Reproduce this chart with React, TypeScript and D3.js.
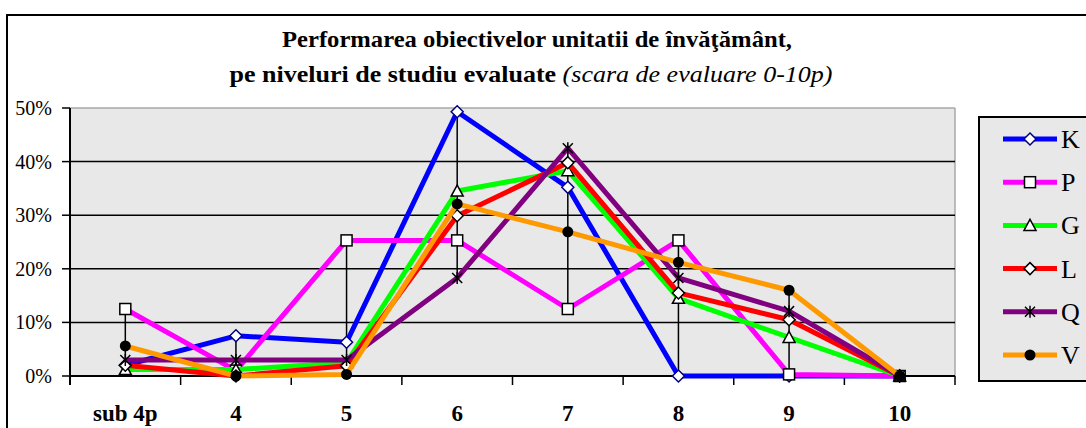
import React from "react";
import * as d3 from "d3";

// categories on the x axis (score levels)
const categories = ["sub 4p", "4", "5", "6", "7", "8", "9", "10"];
const seriesNames = ["K", "P", "G", "L", "Q", "V"];

// percentages per study level
const K = [2.0, 7.5, 6.3, 49.3, 35.2, 0, 0, 0];
const P = [12.5, 1.0, 25.3, 25.3, 12.5, 25.3, 0.3, 0];
const G = [1.2, 1.2, 2.5, 34.5, 38.3, 14.5, 7.2, 0];
const L = [2.0, 0, 1.9, 29.9, 39.8, 15.5, 10.5, 0];
const Q = [3.0, 3.0, 3.0, 18.3, 42.5, 18.3, 12.1, 0];
const V = [5.6, 0, 0.3, 32.1, 26.9, 21.2, 16.0, 0];

const yTicks = [0, 10, 20, 30, 40, 50];

const W = 1086;
const H = 428;
const plot = { left: 70, right: 955, top: 108, bottom: 376 };
const FONT = "Liberation Serif, Times New Roman, DejaVu Serif, serif";

const colors: Record<string, string> = {
  K: "#0000ff",
  P: "#ff00ff",
  G: "#00ff00",
  L: "#ff0000",
  Q: "#800080",
  V: "#ff9900",
};

const shapes: Record<string, string> = {
  K: "diamond",
  P: "square",
  G: "triangle",
  L: "diamond",
  Q: "star",
  V: "circle",
};

const Marker = ({ name, x, y }: { name: string; x: number; y: number }) => {
  const shape = shapes[name];
  const stroke = name === "K" ? "#000080" : "#000";
  if (shape === "diamond") {
    const s = 6;
    return (
      <path
        d={`M${x},${y - s}L${x + s},${y}L${x},${y + s}L${x - s},${y}Z`}
        fill="#fff"
        stroke={stroke}
        strokeWidth={1.5}
      />
    );
  }
  if (shape === "square") {
    return <rect x={x - 5.5} y={y - 5.5} width={11} height={11} fill="#fff" stroke="#000" strokeWidth={1.5} />;
  }
  if (shape === "triangle") {
    return (
      <path d={`M${x},${y - 6}L${x + 6},${y + 5}L${x - 6},${y + 5}Z`} fill="#fff" stroke="#000" strokeWidth={1.5} />
    );
  }
  if (shape === "star") {
    const s = 5;
    return (
      <path
        d={`M${x - s},${y - s}L${x + s},${y + s}M${x + s},${y - s}L${x - s},${y + s}M${x},${y - s - 1}L${x},${y + s + 1}`}
        stroke="#000"
        strokeWidth={1.5}
      />
    );
  }
  return <circle cx={x} cy={y} r={5.5} fill="#000" />;
};

export default function App() {
  const data: Record<string, number[]> = { K, P, G, L, Q, V };

  const x = d3.scaleBand<string>().domain(categories).range([plot.left, plot.right]);
  const y = d3.scaleLinear().domain([0, 50]).range([plot.bottom, plot.top]);
  const cx = (c: string) => (x(c) as number) + x.bandwidth() / 2;

  const line = d3
    .line<number>()
    .x((_, i) => cx(categories[i]))
    .y((d) => y(d));

  const boundaries = categories.map((c) => x(c) as number).concat([plot.right]);

  return (
    <svg width={W} height={H} style={{ position: "absolute", left: 0, top: 0, fontFamily: FONT }}>
      <rect x={0} y={0} width={W} height={H} fill="#fff" />
      {/* chart frame */}
      <rect x={7} y={15} width={1200} height={600} fill="none" stroke="#000" strokeWidth={2} />

      {/* title */}
      <text
        x={537}
        y={47}
        textAnchor="middle"
        fontSize={23}
        fontWeight="bold"
        textLength={510}
        lengthAdjust="spacingAndGlyphs"
      >
        Performarea obiectivelor unitatii de învăţământ,
      </text>
      <text x={531} y={82} textAnchor="middle" fontSize={23} textLength={603} lengthAdjust="spacingAndGlyphs">
        <tspan fontWeight="bold">pe niveluri de studiu evaluate </tspan>
        <tspan fontStyle="italic">(scara de evaluare 0-10p)</tspan>
      </text>

      {/* plot area */}
      <rect
        x={plot.left}
        y={plot.top}
        width={plot.right - plot.left}
        height={plot.bottom - plot.top}
        fill="#e8e8e8"
      />
      <line x1={plot.left} x2={plot.right} y1={plot.top} y2={plot.top} stroke="#a8a8a8" strokeWidth={1.5} />
      <line x1={plot.right} x2={plot.right} y1={plot.top} y2={plot.bottom} stroke="#a8a8a8" strokeWidth={1.5} />
      {yTicks
        .filter((t) => t > 0 && t < 50)
        .map((t) => (
          <line key={t} x1={plot.left} x2={plot.right} y1={y(t)} y2={y(t)} stroke="#000" strokeWidth={1.5} />
        ))}

      {/* y axis */}
      <line x1={plot.left} x2={plot.left} y1={plot.top} y2={plot.bottom + 9} stroke="#000" strokeWidth={2} />
      {yTicks.map((t) => (
        <g key={t}>
          <line x1={plot.left - 8} x2={plot.left} y1={y(t)} y2={y(t)} stroke="#000" strokeWidth={1.5} />
          <text x={52} y={y(t) + 7} textAnchor="end" fontSize={20}>
            {t}%
          </text>
        </g>
      ))}

      {/* x axis */}
      <line x1={plot.left} x2={plot.right} y1={plot.bottom} y2={plot.bottom} stroke="#000" strokeWidth={2} />
      {boundaries.map((b, i) => (
        <line key={i} x1={b} x2={b} y1={plot.bottom} y2={plot.bottom + 9} stroke="#000" strokeWidth={1.5} />
      ))}
      {categories.map((c) => (
        <text key={c} x={cx(c)} y={421} textAnchor="middle" fontSize={23} fontWeight="bold">
          {c}
        </text>
      ))}

      {/* high-low lines */}
      {categories.map((c, i) => {
        const vals = seriesNames.map((n) => data[n][i]);
        return (
          <line
            key={c}
            x1={cx(c)}
            x2={cx(c)}
            y1={y(d3.max(vals) as number)}
            y2={y(d3.min(vals) as number)}
            stroke="#000"
            strokeWidth={1.5}
          />
        );
      })}

      {/* series */}
      {seriesNames.map((n) => (
        <g key={n}>
          <path d={line(data[n]) as string} fill="none" stroke={colors[n]} strokeWidth={5} strokeLinejoin="round" />
          {data[n].map((v, i) => (
            <Marker key={i} name={n} x={cx(categories[i])} y={y(v)} />
          ))}
        </g>
      ))}

      {/* legend */}
      <rect x={979} y={117} width={200} height={264} fill="#e8e8e8" stroke="#000" strokeWidth={2} />
      {seriesNames.map((n, i) => {
        const ly = 139 + i * 43.2;
        return (
          <g key={n}>
            <line x1={1003} x2={1057} y1={ly} y2={ly} stroke={colors[n]} strokeWidth={5} />
            <Marker name={n} x={1030} y={ly} />
            <text x={1061} y={ly + 9} fontSize={26}>
              {n}
            </text>
          </g>
        );
      })}
    </svg>
  );
}
